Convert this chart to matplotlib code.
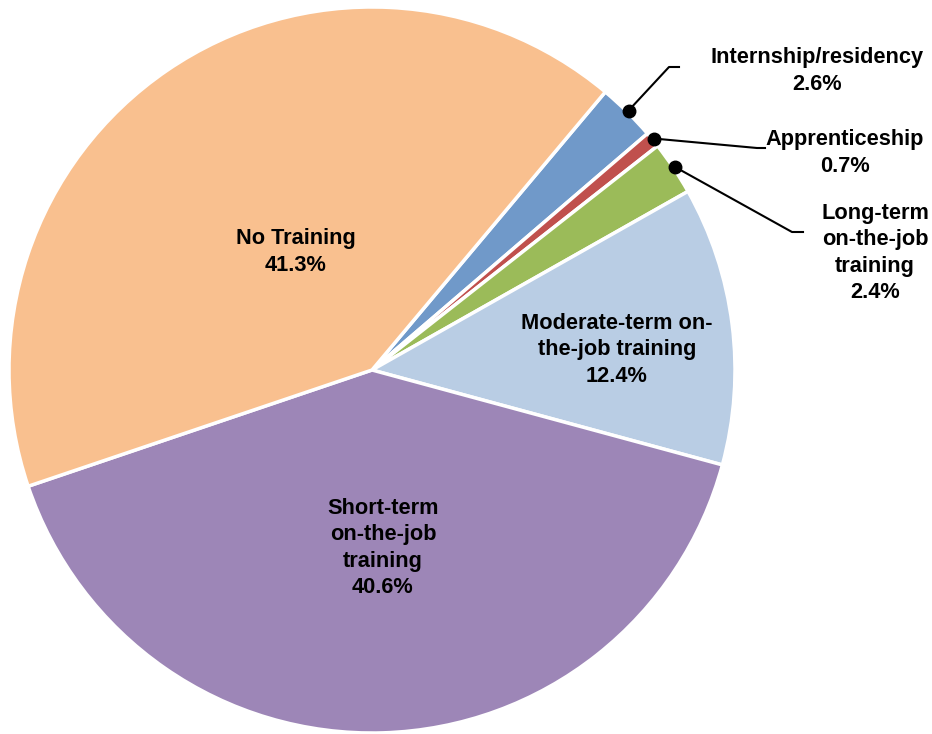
import matplotlib
matplotlib.use("Agg")
import numpy as np
import matplotlib.pyplot as plt

plt.rcParams['font.family'] = ['Liberation Sans', 'DejaVu Sans']

# slices, clockwise from the top-right
labels = ["Internship/residency", "Apprenticeship", "Long-term\non-the-job\ntraining",
          "Moderate-term on-\nthe-job training", "Short-term\non-the-job\ntraining", "No Training"]
values = [2.6, 0.7, 2.4, 12.4, 40.6, 41.3]
colors = ["#7099C9", "#C0504D", "#9BBB59", "#B9CDE4", "#9D86B7", "#F9C08F"]

W, H = 932, 734
fig = plt.figure(figsize=(W / 100, H / 100), dpi=100)
ax = fig.add_axes([0, 0, 1, 1])

cx, cy, R = 372, H - 370, 363
wedges, _ = ax.pie(values, colors=colors, startangle=50, counterclock=False,
                   center=(cx, cy), radius=R, frame=True,
                   wedgeprops=dict(edgecolor='white', linewidth=2.5))
ax.set_xlim(0, W)
ax.set_ylim(0, H)
ax.set_aspect('equal')
ax.axis('off')

fs = 15.7
ls = 1.33
# labels inside the big slices
inside = {3: (617, 350), 4: (383, 548), 5: (296, 252)}
for i, (x, y) in inside.items():
    ax.text(x, H - y, f"{labels[i]}\n{values[i]}%", ha='center', va='center',
            fontsize=fs, fontweight='bold', linespacing=ls)

# small slices get leader lines
outside = {
    0: ((669, 67), (679, 67), (817, 71)),
    1: ((757, 148), (765, 148), (845, 153)),
    2: ((792, 232), (803, 232), (875, 253)),
}
for i, (elbow, end, txt) in outside.items():
    w = wedges[i]
    mid = np.deg2rad((w.theta1 + w.theta2) / 2)
    px = cx + R * 1.005 * np.cos(mid)
    py = cy + R * 1.005 * np.sin(mid)
    ax.plot([px, elbow[0], end[0]], [py, H - elbow[1], H - end[1]], color='black', lw=1.5)
    ax.plot(px, py, 'o', color='black', markersize=9)
    ax.text(txt[0], H - txt[1], f"{labels[i]}\n{values[i]}%", ha='center', va='center',
            fontsize=fs, fontweight='bold', linespacing=ls)

fig.savefig("out.png", dpi=100)
